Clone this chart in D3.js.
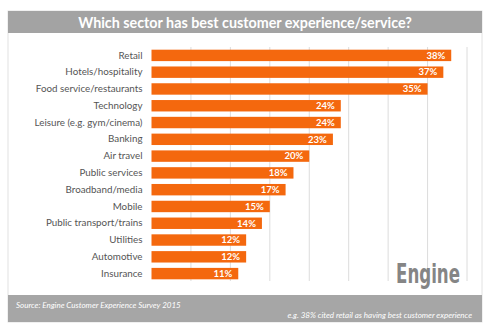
<!DOCTYPE html>
<html><head><meta charset="utf-8">
<script src="https://cdn.jsdelivr.net/npm/d3@7"></script>
<style>body{margin:0;background:#fff}svg{display:block}</style>
</head><body>
<script>
const categories = ["Retail","Hotels/hospitality","Food service/restaurants","Technology","Leisure (e.g. gym/cinema)","Banking","Air travel","Public services","Broadband/media","Mobile","Public transport/trains","Utilities","Automotive","Insurance"];
const values = [38,37,35,24,24,23,20,18,17,15,14,12,12,11];
const tickValues = [0,5,10,15,20,25,30,35,40];
const title = "Which sector has best customer experience/service?";
const source = "Source: Engine Customer Experience Survey 2015";
const note = "e.g. 38% cited retail as having best customer experience";

const W = 500, H = 335;
const svg = d3.select("body").append("svg").attr("width", W).attr("height", H);
const font = "Lato, 'Open Sans', sans-serif";

// frame
svg.append("rect").attr("x",8).attr("y",11).attr("width",474).attr("height",311)
  .attr("fill","#fff").attr("stroke","#e2e2e2").attr("stroke-width",1);
svg.append("rect").attr("x",8).attr("y",11).attr("width",474).attr("height",22).attr("fill","#a3a3a3");
svg.append("text").attr("x",245).attr("y",27.5).attr("text-anchor","middle")
  .attr("font-family",font).attr("font-weight",700).attr("font-size",14.3).attr("fill","#fff").text(title);

const x = d3.scaleLinear().domain([0,40]).range([151.5,467]);
const y = d3.scaleBand().domain(categories).range([47,282]).paddingInner(0.32).paddingOuter(0.16);

// gridlines
svg.append("g").selectAll("line").data(tickValues.slice(1)).join("line")
  .attr("x1",d=>x(d)).attr("x2",d=>x(d)).attr("y1",47).attr("y2",281)
  .attr("stroke","#dcdcdc").attr("stroke-width",1);

// bars
svg.append("g").selectAll("rect").data(values).join("rect")
  .attr("x",x(0)).attr("y",(d,i)=>y(categories[i]))
  .attr("width",d=>x(d)-x(0)).attr("height",y.bandwidth())
  .attr("fill","#f4680e");

// value labels
svg.append("g").selectAll("text").data(values).join("text")
  .attr("x",d=>x(d)-6).attr("y",(d,i)=>y(categories[i])+y.bandwidth()/2+3.3)
  .attr("text-anchor","end").attr("font-family",font).attr("font-weight",700)
  .attr("font-size",9.5).attr("fill","#fff").text(d=>d+"%");

// category axis
const yAxis = d3.axisLeft(y).tickSize(0).tickPadding(9);
const ga = svg.append("g").attr("transform",`translate(${x(0)},0)`).call(yAxis);
ga.select(".domain").remove();
ga.selectAll("text").attr("font-family",font).attr("font-size",9.8).attr("fill","#555");

// logo
svg.append("text").attr("x",396).attr("y",283).attr("font-family","'Liberation Sans Narrow','DejaVu Sans Condensed',sans-serif")
  .attr("font-weight",700).attr("font-size",26).attr("fill","#858585")
  .attr("textLength",64).attr("lengthAdjust","spacingAndGlyphs").text("Engine");

// footer
svg.append("rect").attr("x",8).attr("y",295).attr("width",474).attr("height",27).attr("fill","#a6a6a6");
svg.append("text").attr("x",16).attr("y",308).attr("font-family",font).attr("font-style","italic")
  .attr("font-size",8).attr("fill","#fff").text(source);
svg.append("text").attr("x",472).attr("y",318).attr("text-anchor","end").attr("font-family",font).attr("font-style","italic")
  .attr("font-size",8).attr("fill","#fff").text(note);
</script>
</body></html>
